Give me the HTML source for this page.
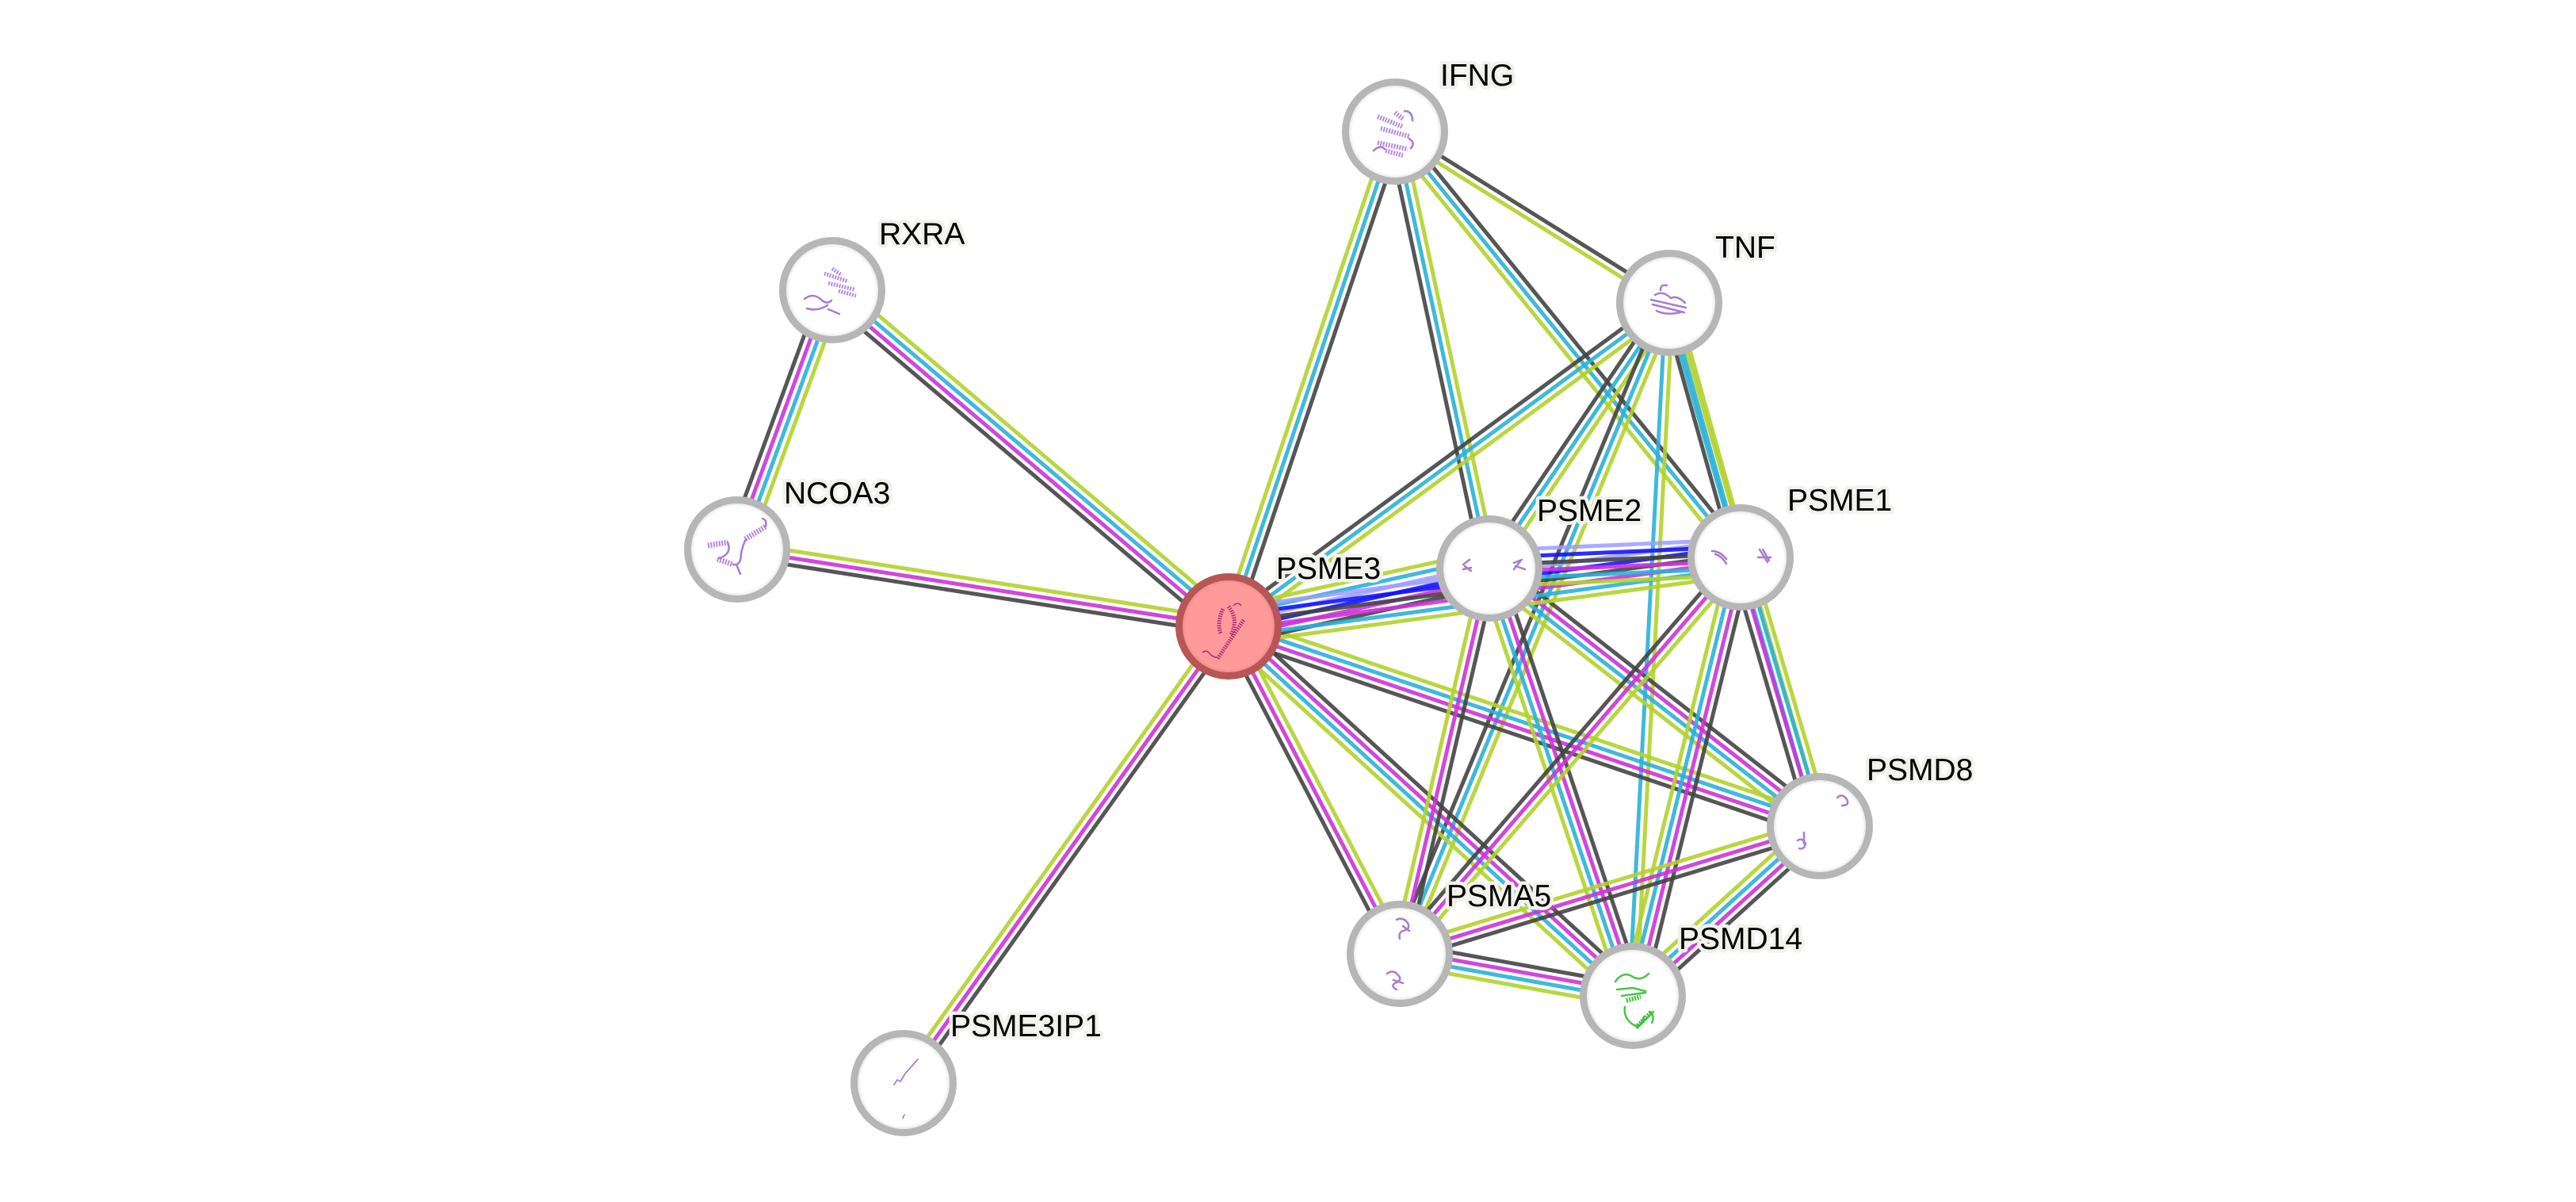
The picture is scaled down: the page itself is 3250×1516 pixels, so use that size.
<!DOCTYPE html>
<html>
<head>
<meta charset="utf-8">
<style>
html,body{margin:0;padding:0;background:#ffffff;}
svg{display:block;}
.lbl{font-family:"Liberation Sans",Arial,sans-serif;font-size:39px;fill:#000;stroke:#f2f2ec;stroke-width:9px;stroke-linejoin:round;paint-order:stroke;}
.st{fill:none;stroke:#a77bd2;stroke-width:2.5;stroke-linecap:round;}
.sh{fill:none;stroke:#b48ade;stroke-width:6;stroke-dasharray:2 1.5;}
</style>
</head>
<body>
<svg id="s" width="3250" height="1516" viewBox="0 0 3250 1516" xmlns="http://www.w3.org/2000/svg">
<defs>
<radialGradient id="ng" cx="0.5" cy="0.5" r="0.5">
<stop offset="0" stop-color="#ffffff"/>
<stop offset="0.86" stop-color="#ffffff"/>
<stop offset="1" stop-color="#d4d4d4"/>
</radialGradient>
<radialGradient id="pg" cx="0.5" cy="0.5" r="0.5">
<stop offset="0" stop-color="#ff9a9a"/>
<stop offset="0.86" stop-color="#ff9a9a"/>
<stop offset="1" stop-color="#e07f7f"/>
</radialGradient>
</defs>
<rect width="3250" height="1516" fill="#ffffff"/>
<g id="edges" stroke-width="5" stroke-linecap="butt" fill="none"></g>
<g id="nodes">
<circle cx="1760" cy="166" r="62.5" fill="url(#ng)" stroke="#b6b6b6" stroke-width="9"/>
<circle cx="2106" cy="382" r="62.5" fill="url(#ng)" stroke="#b6b6b6" stroke-width="9"/>
<circle cx="1050" cy="366" r="62.5" fill="url(#ng)" stroke="#b6b6b6" stroke-width="9"/>
<circle cx="930" cy="693" r="62.5" fill="url(#ng)" stroke="#b6b6b6" stroke-width="9"/>
<circle cx="1879" cy="717" r="62.5" fill="url(#ng)" stroke="#b6b6b6" stroke-width="9"/>
<circle cx="2196" cy="703" r="62.5" fill="url(#ng)" stroke="#b6b6b6" stroke-width="9"/>
<circle cx="2296" cy="1042" r="62.5" fill="url(#ng)" stroke="#b6b6b6" stroke-width="9"/>
<circle cx="1766" cy="1203" r="62.5" fill="url(#ng)" stroke="#b6b6b6" stroke-width="9"/>
<circle cx="2060" cy="1256" r="62.5" fill="url(#ng)" stroke="#b6b6b6" stroke-width="9"/>
<circle cx="1140" cy="1366" r="62.5" fill="url(#ng)" stroke="#b6b6b6" stroke-width="9"/>
<circle cx="1550" cy="790" r="62.5" fill="url(#pg)" stroke="#b85656" stroke-width="9"/>
</g>
<g id="structs">
<!-- PSME3 -->
<g fill="none" stroke="#b02a7e" stroke-width="5" stroke-dasharray="1.6 1.4">
<path d="M1543,768 Q1535,785 1540,799"/>
<path d="M1550,765 Q1563,781 1553,801"/>
<path d="M1569,782 L1536,831"/>
</g>
<path d="M1517,823 q5,-4 9,1 t9,5" fill="none" stroke="#b02a7e" stroke-width="1.5"/>
<path d="M1556,764 q6,-6 10,0" fill="none" stroke="#b02a7e" stroke-width="1.5"/>
<!-- IFNG -->
<path class="sh" d="M1738,147 L1770,160 M1742,162 L1778,172 M1738,180 L1776,188 M1748,190 L1770,196 M1760,142 L1770,150"/>
<path class="st" d="M1733,190 q8,-8 14,-2 M1772,140 q10,0 10,12 M1778,175 q8,5 2,12"/>
<!-- RXRA -->
<g transform="translate(0,5)">
<path class="sh" style="stroke-width:5" d="M1040,340 L1070,350 M1045,352 L1078,360 M1050,334 L1062,342 M1058,362 L1080,368"/>
<path class="st" d="M1015,372 q10,-8 20,0 q8,8 14,2 M1018,384 q14,4 26,-4 M1045,385 l14,6"/>
</g>
<!-- NCOA3 -->
<g transform="translate(0,22)">
<path class="sh" style="stroke-width:7" d="M893,666 L918,662 M905,683 L925,690 M940,658 L966,642"/>
<path class="st" d="M918,662 q6,14 -10,20 M925,690 q10,2 10,-14 q2,-10 6,-18 M966,642 q2,-8 -4,-10 M934,702 l-4,-10"/>
</g>
<!-- TNF -->
<path class="st" d="M2083,378 L2127,388 M2085,384 L2125,394 M2088,372 q10,-6 20,4 q8,-4 18,6 M2090,392 q12,6 30,2 M2095,366 q0,-8 8,-6"/>
<!-- PSME2 -->
<path class="st" d="M1846,712 l8,-6 m-6,8 l8,6 m-10,-2 l10,-2 M1910,710 l10,-4 m-8,8 l12,4 m-14,0 l8,-10"/>
<!-- PSME1 -->
<path class="st" d="M2160,695 q10,0 18,10 m-14,-6 q8,2 14,12 M2220,693 l10,16 m-6,-16 l8,14 m-14,-4 l16,0"/>
<!-- PSMD8 -->
<path class="st" d="M2318,1006 q6,-6 12,2 q4,8 -6,8 M2268,1060 q6,-4 10,4 q-2,8 -8,6 M2276,1050 l0,14"/>
<!-- PSMA5 -->
<path class="st" d="M1762,1160 q8,-4 14,4 q4,8 -6,10 q-6,2 -4,10 M1770,1168 l8,6 M1750,1228 q8,-6 14,2 q6,6 -4,10 q-6,4 2,8 M1758,1236 l12,4"/>
<!-- PSMD14 -->
<g fill="none" stroke="#4cc44c" stroke-width="2.5" stroke-linecap="round">
<path d="M2038,1238 q10,-14 22,-6 q10,6 20,-4 M2040,1248 l20,-2 l16,4 M2046,1256 l30,-4 M2050,1270 q-2,14 10,22 q10,6 14,-10 M2066,1296 l20,-20 M2082,1276 q6,6 2,14"/>
</g>
<path d="M2052,1262 L2070,1257 M2064,1296 L2084,1276" fill="none" stroke="#3fbf3f" stroke-width="6" stroke-dasharray="2 1.5"/>
<!-- PSME3IP1 -->
<path class="st" style="stroke-width:1.8" d="M1128,1368 l4,-6 l4,2 l6,-10 l16,-18 M1139,1410 l2,-4"/>
</g>
<g id="labels">
<text class="lbl" x="1817" y="108">IFNG</text>
<text class="lbl" x="2164" y="325">TNF</text>
<text class="lbl" x="1109" y="308">RXRA</text>
<text class="lbl" x="989" y="635">NCOA3</text>
<text class="lbl" x="1610" y="730">PSME3</text>
<text class="lbl" x="1939" y="657">PSME2</text>
<text class="lbl" x="2255" y="644">PSME1</text>
<text class="lbl" x="2355" y="984">PSMD8</text>
<text class="lbl" x="1825" y="1143">PSMA5</text>
<text class="lbl" x="2118" y="1197">PSMD14</text>
<text class="lbl" x="1199" y="1307">PSME3IP1</text>
</g>
</svg>
<script>
(function(){
var N={IFNG:[1760,166],TNF:[2106,382],RXRA:[1050,366],NCOA3:[930,693],PSME3:[1550,790],PSME2:[1879,717],PSME1:[2196,703],PSMD8:[2296,1042],PSMA5:[1766,1203],PSMD14:[2060,1256],PSME3IP1:[1140,1366]};
var Y='#b3d12c',C='#2ab1d8',M='#cc33d8',K='#444444',B='#1414ff',L='#9c9cff';
var E=[
['RXRA','NCOA3',[Y,C,M,K]],
['RXRA','PSME3',[Y,C,M,K]],
['NCOA3','PSME3',[Y,M,K]],
['PSME3IP1','PSME3',[Y,M,K]],
['TNF','IFNG',[Y,K]],
['PSME3','IFNG',[Y,C,K]],
['IFNG','PSME2',[Y,C,K]],
['PSME1','IFNG',[Y,C,K]],
['TNF','PSME3',[Y,C,K]],
['TNF','PSME2',[Y,C,K]],
['TNF','PSMA5',[Y,C,K]],
['TNF','PSMD14',[Y,C]],
['TNF','PSMD8',[Y,C]],
['TNF','PSME1',[Y,C,K]],
['PSME3','PSMA5',[Y,M,K]],
['PSMD14','PSME3',[Y,C,M,K]],
['PSME3','PSMD8',[Y,C,M,K]],
['PSMA5','PSME2',[Y,M,K]],
['PSMD14','PSME2',[Y,C,M,K]],
['PSMD8','PSME2',[Y,C,M,K]],
['PSME1','PSMA5',[Y,M,K]],
['PSMD14','PSME1',[Y,C,M,K]],
['PSME1','PSMD8',[Y,C,M,K]],
['PSMD14','PSMA5',[Y,C,M,K]],
['PSMA5','PSMD8',[Y,M,K]],
['PSMD14','PSMD8',[Y,C,M,K]],
['PSME3','PSME2',[Y,C,L,B,M,K]],
['PSME3','PSME1',[L,B,K,M,C,Y]],
['PSME2','PSME1',[L,B,K,M,C,Y]]
];
var g=document.getElementById('edges');
var ns='http://www.w3.org/2000/svg';
E.forEach(function(e){
 var a=N[e[0]],b=N[e[1]],cols=e[2];
 var dx=b[0]-a[0],dy=b[1]-a[1],len=Math.sqrt(dx*dx+dy*dy);
 var nx=-dy/len,ny=dx/len,n=cols.length;
 cols.forEach(function(c,i){
  var k=(i-(n-1)/2)*9;
  var l=document.createElementNS(ns,'line');
  l.setAttribute('x1',(a[0]+k*nx).toFixed(1));
  l.setAttribute('y1',(a[1]+k*ny).toFixed(1));
  l.setAttribute('x2',(b[0]+k*nx).toFixed(1));
  l.setAttribute('y2',(b[1]+k*ny).toFixed(1));
  l.setAttribute('stroke',c);
  l.setAttribute('stroke-opacity',(c===L)?'0.85':'0.9');
  g.appendChild(l);
 });
});
})();
</script>
</body>
</html>
